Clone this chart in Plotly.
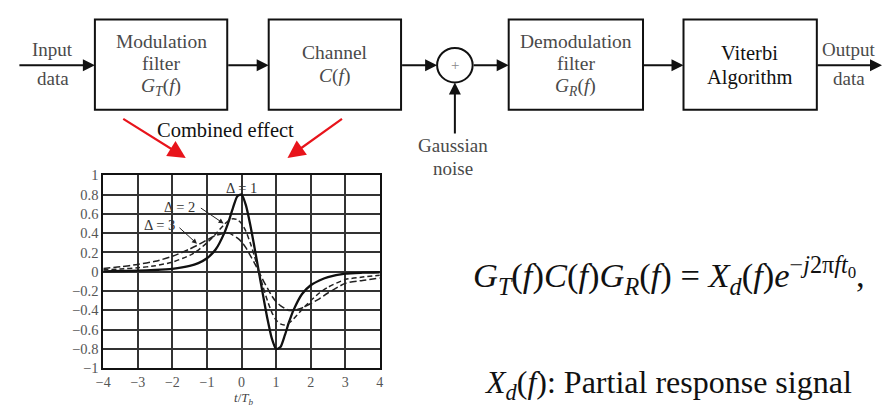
import plotly.graph_objects as go

W, H = 887, 409

# ---------------- data ----------------
t_vals = [-4, -3.5, -3, -2.5, -2, -1.5, -1.25, -1, -0.75, -0.5, -0.375, -0.25, -0.125, 0,
          0.125, 0.25, 0.375, 0.5, 0.625, 0.75, 0.875, 1, 1.125, 1.25, 1.375, 1.5,
          1.75, 2, 2.25, 2.5, 3, 3.5, 4]
delta1 = [0.005, 0.008, 0.012, 0.018, 0.03, 0.06, 0.09, 0.14, 0.23, 0.40, 0.52, 0.66, 0.78, 0.80,
          0.69, 0.49, 0.25, 0.0, -0.25, -0.49, -0.69, -0.80, -0.78, -0.66, -0.52, -0.40,
          -0.23, -0.14, -0.09, -0.055, -0.02, -0.01, -0.005]
delta2 = [0.02, 0.028, 0.041, 0.062, 0.10, 0.17, 0.225, 0.30, 0.39, 0.49, 0.53, 0.55, 0.54, 0.50,
          0.42, 0.30, 0.16, 0.0, -0.16, -0.30, -0.42, -0.50, -0.54, -0.55, -0.53, -0.49,
          -0.39, -0.30, -0.22, -0.16, -0.08, -0.055, -0.035]
delta3 = [0.035, 0.052, 0.076, 0.108, 0.16, 0.235, 0.28, 0.33, 0.375, 0.40, 0.40, 0.38, 0.35, 0.31,
          0.25, 0.17, 0.09, 0.0, -0.09, -0.17, -0.25, -0.31, -0.35, -0.38, -0.40, -0.40,
          -0.375, -0.33, -0.28, -0.22, -0.12, -0.09, -0.065]
series_names = ["Δ = 1", "Δ = 2", "Δ = 3"]

x_ticks = [-4, -3, -2, -1, 0, 1, 2, 3, 4]
x_ticktext = ["−4", "−3", "−2", "−1", "0", "1", "2", "3", "4"]
y_ticks = [1, 0.8, 0.6, 0.4, 0.2, 0, -0.2, -0.4, -0.6, -0.8, -1]
y_ticktext = ["1", "0.8", "0.6", "0.4", "0.2", "0", "−0.2", "−0.4", "−0.6", "−0.8", "−1"]

SERIF = "Liberation Serif"


def px(x):
    return x / W


def py(y):
    return 1 - y / H


fig = go.Figure()

fig.add_trace(go.Scatter(x=t_vals, y=delta1, mode="lines", name=series_names[0],
                         line=dict(color="#111", width=2.3, shape="spline", smoothing=0.6)))
fig.add_trace(go.Scatter(x=t_vals, y=delta2, mode="lines", name=series_names[1],
                         line=dict(color="#222", width=1.5, dash="5px,3px", shape="spline", smoothing=0.6)))
fig.add_trace(go.Scatter(x=t_vals, y=delta3, mode="lines", name=series_names[2],
                         line=dict(color="#222", width=1.5, dash="7px,3px", shape="spline", smoothing=0.6)))

shapes = []
annotations = []

# ---------------- block diagram ----------------
boxes = [(89, 12, 223, 106), (265, 12, 399, 106), (508, 12, 644, 106), (685, 12, 820, 106)]
for (x0, y0, x1, y1) in boxes:
    shapes.append(dict(type="rect", xref="paper", yref="paper",
                       x0=px(x0), x1=px(x1), y0=py(y1), y1=py(y0),
                       line=dict(color="#111", width=2), fillcolor="rgba(0,0,0,0)"))

# summing junction
cx, cy, r = 453.5, 59.5, 18
shapes.append(dict(type="circle", xref="paper", yref="paper",
                   x0=px(cx - r), x1=px(cx + r), y0=py(cy + r), y1=py(cy - r),
                   line=dict(color="#111", width=2)))


def arrow(x_tail, y_tail, x_head, y_head, color="#111", width=2, size=1.0, head=2):
    annotations.append(dict(xref="paper", yref="paper", x=px(x_head), y=py(y_head),
                            ax=x_tail - x_head, ay=y_tail - y_head, axref="pixel", ayref="pixel",
                            text="", showarrow=True, arrowhead=head, arrowsize=size,
                            arrowwidth=width, arrowcolor=color, standoff=0, startstandoff=0))


ay_ = 59.5
arrow(12, ay_, 89, ay_, size=1.2)
arrow(223, ay_, 265, ay_, size=1.2)
arrow(399, ay_, cx - r, ay_, size=1.2)
arrow(cx + r, ay_, 508, ay_, size=1.2)
arrow(644, ay_, 685, ay_, size=1.2)
arrow(820, ay_, 886, ay_, size=1.2)
arrow(cx, 130, cx, cy + r, size=1.2)

# red arrows
arrow(117, 116, 181, 156, color="#e8141b", width=2.2, size=1.6)
arrow(340, 116, 284, 156, color="#e8141b", width=2.2, size=1.6)


def text(x, y, s, size=15, color="#444", anchor="center"):
    annotations.append(dict(xref="paper", yref="paper", x=px(x), y=py(y), text=s,
                            showarrow=False, xanchor=anchor, yanchor="middle",
                            font=dict(family=SERIF, size=size, color=color)))


GREY = "#4a4a4a"
text(46.5, 43, "Input", 19, GREY)
text(46.5, 73, "data", 19, GREY)
text(156, 35, "Modulation", 19.5, GREY)
text(156, 58, "filter", 19.5, GREY)
text(156, 82, "<i>G<sub>T</sub></i>(<i>f</i>)", 19.5, GREY)
text(332, 46, "Channel", 19.5, GREY)
text(332, 71, "<i>C</i>(<i>f</i>)", 19.5, GREY)
text(cx, cy, "+", 15, "#888")
text(576, 35, "Demodulation", 19.5, GREY)
text(576, 58, "filter", 19.5, GREY)
text(576, 82, "<i>G<sub>R</sub></i>(<i>f</i>)", 19.5, GREY)
text(752, 47, "Viterbi", 20.5, "#111")
text(752, 72, "Algorithm", 20.5, "#111")
text(853, 43, "Output", 19, GREY)
text(853, 73, "data", 19, GREY)
text(452, 143, "Gaussian", 19, GREY)
text(452, 167, "noise", 19, GREY)
text(221, 127, "Combined effect", 20.5, "#111")

# formula and caption
text(470, 278, "<i>G<sub>T</sub></i>(<i>f</i>)<i>C</i>(<i>f</i>)<i>G<sub>R</sub></i>(<i>f</i>) = "
     "<i>X<sub>d</sub></i>(<i>f</i>)<i>e</i><sup>−<i>j</i>2π<i>ft</i><sub>0</sub></sup>,",
     34.5, "#111", anchor="left")
text(481, 392, "<i>X<sub>d</sub></i>(<i>f</i>): Partial response signal", 32, "#111", anchor="left")

# ---------------- annotations inside the plot ----------------
for (xa, ya, s) in [(0, 0.87, series_names[0]), (-1.8, 0.67, series_names[1]), (-2.38, 0.48, series_names[2])]:
    annotations.append(dict(xref="x", yref="y", x=xa, y=ya, text=s, showarrow=False,
                            font=dict(family=SERIF, size=14.5, color="#333")))
annotations.append(dict(xref="x", yref="y", axref="x", ayref="y", x=-0.52, y=0.50,
                        ax=-1.22, ay=0.67, text="", showarrow=True, arrowhead=2,
                        arrowsize=1, arrowwidth=1, arrowcolor="#222", standoff=0))
annotations.append(dict(xref="x", yref="y", axref="x", ayref="y", x=-1.29, y=0.29,
                        ax=-1.84, ay=0.47, text="", showarrow=True, arrowhead=2,
                        arrowsize=1, arrowwidth=1, arrowcolor="#222", standoff=0))
# x-axis title
annotations.append(dict(xref="paper", yref="paper", x=px(239), y=py(395), text="<i>t</i>/<i>T<sub>b</sub></i>",
                        showarrow=False, xanchor="center", yanchor="top",
                        font=dict(family=SERIF, size=13, color="#444")))

fig.update_layout(
    width=W, height=H, autosize=False,
    margin=dict(l=0, r=0, t=0, b=0),
    paper_bgcolor="white", plot_bgcolor="white",
    showlegend=False,
    shapes=shapes, annotations=annotations,
    xaxis=dict(domain=[px(97.5), px(377.5)], range=[-4, 4], tickvals=x_ticks, ticktext=x_ticktext,
               showgrid=True, gridcolor="#333", gridwidth=1.5, zeroline=False,
               showline=True, mirror=True, linecolor="#111", linewidth=2, ticks="",
               tickfont=dict(family=SERIF, size=14, color="#555"), fixedrange=True),
    yaxis=dict(domain=[py(375), py(174)], range=[-1, 1], tickvals=y_ticks, ticktext=y_ticktext,
               showgrid=True, gridcolor="#333", gridwidth=1.5, zeroline=False,
               showline=True, mirror=True, linecolor="#111", linewidth=2, ticks="",
               tickfont=dict(family=SERIF, size=14.5, color="#555"), fixedrange=True),
)

fig.write_html("out.html", config={"displayModeBar": False})
